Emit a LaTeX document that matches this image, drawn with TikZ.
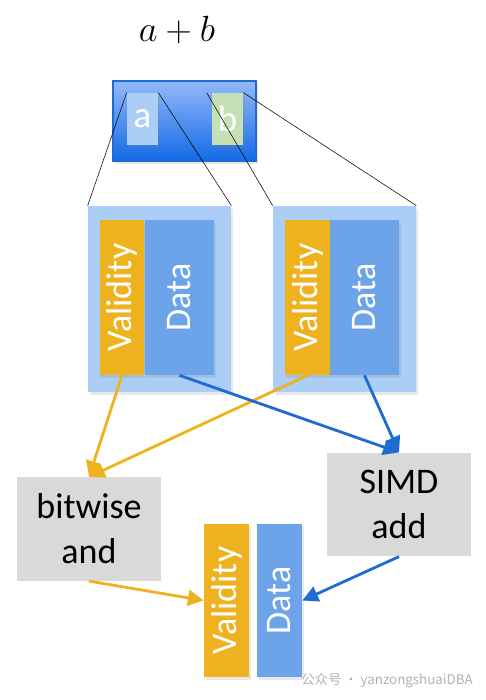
\documentclass[tikz,border=0pt]{standalone}
\usepackage{fontspec}
\setmainfont{Carlito}
\newfontfamily\cjk{Noto Sans CJK SC}
\usepackage{tikz}
\usetikzlibrary{arrows.meta, shadows}

\definecolor{valorange}{HTML}{EFB21F}
\definecolor{datablue}{HTML}{6DA3E8}
\definecolor{panelblue}{HTML}{AACEF6}
\definecolor{flowblue}{HTML}{1F6BD2}
\definecolor{opgray}{HTML}{D9D9D9}
\definecolor{vectop}{HTML}{93B9F9}
\definecolor{vecbot}{HTML}{1469E6}
\definecolor{elemgreen}{HTML}{C5E0B4}

\begin{document}
\begin{tikzpicture}[
  x=0.02cm, y=-0.02cm,
  soft/.style = {drop shadow={opacity=0.18, shadow xshift=1pt, shadow yshift=-1.5pt}},
  bar/.style = {soft, minimum height=3.1cm, inner sep=0pt},
  valbar/.style = {bar, fill=valorange, minimum width=0.9cm},
  databar/.style = {bar, fill=datablue, minimum width=1.38cm},
  barlabel/.style = {rotate=90, text=white, font=\fontsize{20.5}{24}\selectfont},
  panel/.style = {soft, fill=panelblue, minimum width=2.86cm, minimum height=3.72cm},
  opbox/.style = {fill=opgray, align=center, minimum width=2.88cm, minimum height=2.07cm,
                  font=\fontsize{20.5}{25.5}\selectfont},
  elem/.style = {soft, minimum width=0.62cm, minimum height=1.04cm, inner sep=0pt,
                 text=white, font=\fontsize{21}{24}\selectfont},
  guide/.style = {black, line width=0.3pt},
  flow/.style = {line width=1.6pt, -{Triangle[length=9pt, width=9pt]}}
]
  \useasboundingbox (0,0) rectangle (485,700);

  % operands
  \node (sum) at (177,30) {\fontsize{20}{24}\selectfont $a+b$};
  \node[soft, draw=flowblue, line width=0.6pt, top color=vectop, bottom color=vecbot,
        minimum width=2.86cm, minimum height=1.6cm] (vec) at (184.5,121) {};
  \node[elem, fill=panelblue] (ea) at (142.5,119) {a};
  \node[elem, fill=elemgreen] (eb) at (227.5,119) {b};

  % input arrays
  \node[panel] (lpanel) at (159.5,299) {};
  \node[valbar, label={[barlabel]center:Validity}] (lval)  at (122,297.5) {};
  \node[databar, label={[barlabel]center:Data}]    (ldata) at (179.5,297.5) {};
  \node[panel] (rpanel) at (344.5,299) {};
  \node[valbar, label={[barlabel]center:Validity}] (rval)  at (307.5,297.5) {};
  \node[databar, label={[barlabel]center:Data}]    (rdata) at (364.5,297.5) {};

  \draw[guide] (ea.north west) -- (lpanel.north west);
  \draw[guide] (ea.north east) -- (lpanel.north east);
  \draw[guide] ([xshift=-0.1cm]eb.north west) -- (rpanel.north west);
  \draw[guide] (eb.north east) -- (rpanel.north east);

  % operations
  \node[opbox] (bitw) at (89,529)   {bitwise\\and};
  \node[opbox] (simd) at (399,504.5) {SIMD\\add};

  % result
  \node[valbar, minimum height=3.06cm, label={[barlabel]center:Validity}] (bval)  at (226.5,600.5) {};
  \node[databar, minimum width=0.9cm, minimum height=3.06cm, label={[barlabel]center:Data}] (bdata) at (279.5,600.5) {};

  \draw[flow, valorange] (lval.south)  -- (bitw.north);
  \draw[flow, valorange] (rval.south)  -- (bitw.north);
  \draw[flow, flowblue]  (ldata.south) -- (simd.north);
  \draw[flow, flowblue]  (rdata.south) -- (simd.north);
  \draw[flow, valorange] (bitw.south)  -- (bval.west);
  \draw[flow, flowblue]  (simd.south)  -- (bdata.east);

  \node[text=gray!60, font=\cjk\fontsize{7.6}{10}\selectfont] (mark) at (387,681)
    {公众号 · yanzongshuaiDBA};
\end{tikzpicture}
\end{document}
